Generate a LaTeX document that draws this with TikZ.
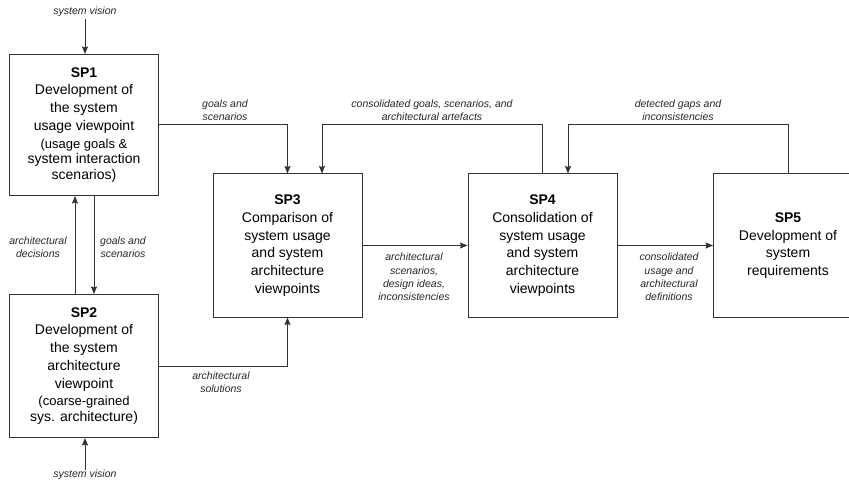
\documentclass[tikz,border=0pt]{standalone}
\usepackage{fontspec}
\setmainfont{Liberation Sans}
\usetikzlibrary{arrows.meta}

\begin{document}
\begin{tikzpicture}[x=1pt,y=-1pt,
  line/.style={draw=black!80,line width=1pt},
  arr/.style={line,-{Stealth[length=7.5pt,width=6pt,inset=1pt]}},
  procbox/.style={line,rectangle,minimum width=149pt,minimum height=143pt,
    inner sep=0pt,align=center,text=black,
    font=\fontsize{14}{17.7}\selectfont},
  lbl/.style={align=center,inner sep=0pt,text=black!85,
    font=\itshape\fontsize{10.5}{13.3}\selectfont}]
\useasboundingbox (0,0) rectangle (849,481);
\clip (0,0) rectangle (849,481);

% process boxes
\node[procbox,minimum height=141pt] (sp1) at (84,125)
  {\textbf{SP1}\\Development of\\the system\\usage viewpoint\\
   \fontsize{13}{15.8}\selectfont(usage goals \&\\[-1.9pt]system interaction\\[-1.9pt]scenarios)};
\node[procbox] (sp2) at (84,366)
  {\textbf{SP2}\\Development of\\the system\\architecture\\viewpoint\\
   \fontsize{13}{15.8}\selectfont(coarse-grained\\[-1.9pt]sys. architecture)};
\node[procbox] (sp3) at (287.5,245.5)
  {\textbf{SP3}\\Comparison of\\system usage\\and system\\architecture\\viewpoints};
\node[procbox] (sp4) at (542.5,245.5)
  {\textbf{SP4}\\Consolidation of\\system usage\\and system\\architecture\\viewpoints};
\node[procbox] (sp5) at (788,245.5)
  {\textbf{SP5}\\Development of\\system\\requirements};

% free ends and bends
\coordinate (sv1) at (85,19);
\coordinate (sv2) at (85,470);
\coordinate (fb1) at (542.5,125);
\coordinate (fb2) at (788,125);

% connectors
\draw[arr] (sv1) -- (sv1 |- sp1.north);
\draw[arr] (sv2) -- (sv2 |- sp2.south);
\draw[arr] ([xshift=10pt]sp1.south) -- ([xshift=10pt]sp2.north);
\draw[arr] ([xshift=-9pt]sp2.north) -- ([xshift=-9pt]sp1.south);
\draw[arr] (sp1.east) -| (sp3.north);
\draw[arr] (sp2.east) -| (sp3.south);
\draw[arr] (sp3.east) -- (sp4.west);
\draw[arr] (sp4.east) -- (sp5.west);
\draw[arr] (sp4.north) -- (fb1) -| ([xshift=34.5pt]sp3.north);
\draw[arr] (sp5.north) -- (fb2) -| ([xshift=25.5pt]sp4.north);

% connector labels
\node[lbl] (l1) at (85,12) {system vision};
\node[lbl] (l2) at (85,475) {system vision};
\node[lbl] (l3) at (38,247) {architectural\\decisions};
\node[lbl] (l4) at (123,247) {goals and\\scenarios};
\node[lbl] (l5) at (225,110) {goals and\\scenarios};
\node[lbl] (l6) at (221,382) {architectural\\solutions};
\node[lbl] (l7) at (432,110) {consolidated goals, scenarios, and\\architectural artefacts};
\node[lbl] (l8) at (678,110) {detected gaps and\\inconsistencies};
\node[lbl] (l9) at (414,277) {architectural\\scenarios,\\design ideas,\\inconsistencies};
\node[lbl] (l10) at (669,277) {consolidated\\usage and\\architectural\\definitions};
\end{tikzpicture}
\end{document}
